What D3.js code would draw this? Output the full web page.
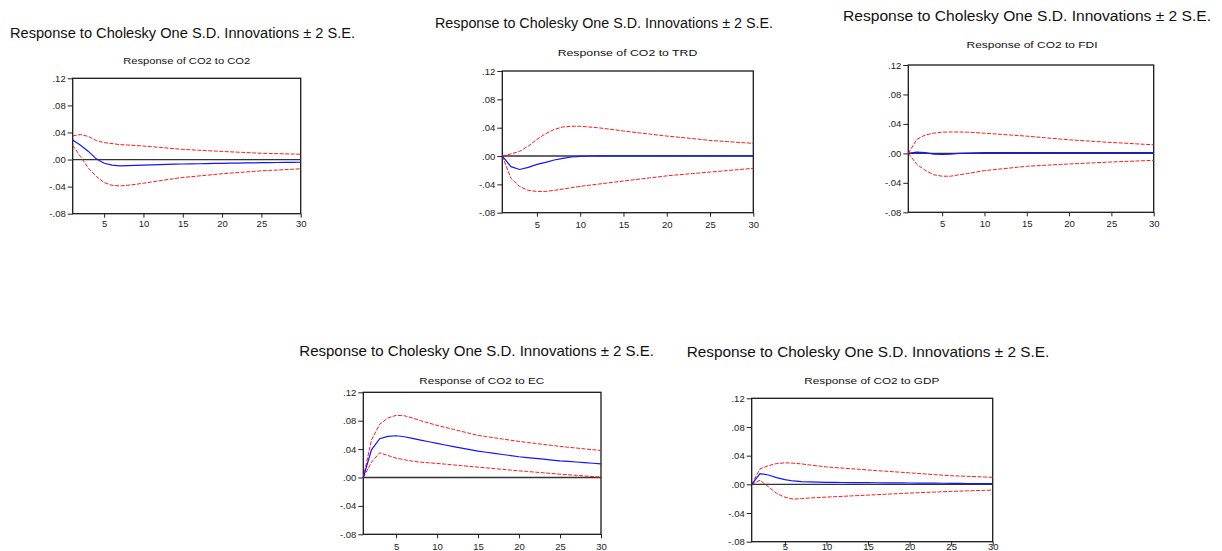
<!DOCTYPE html>
<html>
<head>
<meta charset="utf-8">
<script src="https://cdnjs.cloudflare.com/ajax/libs/d3/7.8.5/d3.min.js"></script>
<style>
  html, body { margin: 0; padding: 0; background: #ffffff; }
  svg { display: block; font-family: "Liberation Sans", Arial, sans-serif; }
</style>
</head>
<body>
<svg id="chart" width="1222" height="551"></svg>
<script>
// ---------------- DATA ----------------
const periods = d3.range(1, 31);
const superTitle = "Response to Cholesky One S.D. Innovations \u00b1 2 S.E.";
const panelTitles = ["Response of CO2 to CO2", "Response of CO2 to TRD", "Response of CO2 to FDI",
                     "Response of CO2 to EC", "Response of CO2 to GDP"];
const yTickValues = [0.12, 0.08, 0.04, 0.00, -0.04, -0.08];
const yTickLabels = [".12", ".08", ".04", ".00", "-.04", "-.08"];
const xTickValues = [5, 10, 15, 20, 25, 30];
const xTickLabels = ["5", "10", "15", "20", "25", "30"];

const co2_co2_resp  = [0.029,0.021,0.012,0.001,-0.0055,-0.0083,-0.0093,-0.009,-0.0086,-0.0082,-0.0079,-0.0076,-0.0072,-0.0069,-0.0066,-0.0064,-0.0062,-0.0060,-0.0058,-0.0056,-0.0054,-0.0052,-0.0050,-0.0048,-0.0046,-0.0045,-0.0044,-0.0042,-0.0041,-0.0040];
const co2_co2_upper = [0.035,0.037,0.034,0.028,0.025,0.0236,0.022,0.0215,0.0207,0.020,0.019,0.018,0.017,0.016,0.015,0.0144,0.0138,0.0132,0.0126,0.012,0.0114,0.0109,0.0104,0.0098,0.0093,0.009,0.0087,0.0084,0.0081,0.0078];
const co2_co2_lower = [0.021,0.0044,-0.0128,-0.025,-0.034,-0.038,-0.039,-0.038,-0.0366,-0.035,-0.0332,-0.0314,-0.0297,-0.028,-0.0265,-0.0254,-0.0243,-0.0232,-0.0221,-0.021,-0.0201,-0.0192,-0.0184,-0.0175,-0.0167,-0.0161,-0.0155,-0.0149,-0.0143,-0.0137];

const co2_trd_resp  = [0,-0.015,-0.019,-0.016,-0.0118,-0.009,-0.0056,-0.0033,-0.0014,-0.0005,0,0.0002,0.0002,0.0002,0.0002,0.0002,0.0002,0.0002,0.0002,0.0002,0.0002,0.0002,0.0002,0.0002,0.0002,0.0002,0.0002,0.0002,0.0002,0.0002];
const co2_trd_upper = [0,0.003,0.0066,0.014,0.0235,0.0315,0.0376,0.041,0.042,0.042,0.041,0.040,0.0385,0.037,0.0353,0.0338,0.0324,0.031,0.0296,0.0282,0.027,0.0258,0.0246,0.0233,0.022,0.0212,0.0203,0.0195,0.0187,0.0179];
const co2_trd_lower = [0,-0.0315,-0.043,-0.0485,-0.050,-0.050,-0.0485,-0.0466,-0.0447,-0.0428,-0.0413,-0.0398,-0.0383,-0.0368,-0.0353,-0.0338,-0.0324,-0.0309,-0.0295,-0.028,-0.0269,-0.0258,-0.0248,-0.0237,-0.0226,-0.0216,-0.0205,-0.0195,-0.0184,-0.0174];

const co2_fdi_resp  = [0,0.0018,0.0009,-0.0009,-0.0013,-0.0009,0,0.0004,0.0007,0.0009,0.0009,0.0009,0.0009,0.0009,0.0009,0.0009,0.0009,0.0009,0.0009,0.0009,0.0009,0.0009,0.0009,0.0009,0.0009,0.001,0.001,0.001,0.001,0.001];
const co2_fdi_upper = [0,0.019,0.025,0.0274,0.0288,0.029,0.029,0.0288,0.0282,0.0274,0.0266,0.0258,0.025,0.0242,0.0234,0.0224,0.0214,0.0204,0.0194,0.0184,0.0177,0.017,0.0162,0.0155,0.0148,0.0142,0.0136,0.0129,0.0123,0.0117];
const co2_fdi_lower = [0,-0.0148,-0.023,-0.029,-0.031,-0.031,-0.029,-0.0274,-0.0254,-0.0234,-0.0222,-0.021,-0.0199,-0.0187,-0.0175,-0.0169,-0.0163,-0.0156,-0.015,-0.0144,-0.0139,-0.0133,-0.0128,-0.0122,-0.0117,-0.0112,-0.0108,-0.0103,-0.0099,-0.0094];

const co2_ec_resp  = [0,0.039,0.0546,0.058,0.0588,0.0574,0.055,0.0527,0.0503,0.048,0.0458,0.0436,0.0414,0.0393,0.0372,0.0356,0.034,0.0324,0.0308,0.0292,0.0281,0.0269,0.0258,0.0246,0.0235,0.0227,0.0218,0.021,0.0201,0.0193];
const co2_ec_upper = [0,0.053,0.075,0.0838,0.0875,0.087,0.0838,0.080,0.0767,0.0734,0.0706,0.0678,0.0649,0.0621,0.0593,0.0576,0.0559,0.0542,0.0525,0.0508,0.0494,0.048,0.0466,0.0452,0.0438,0.0426,0.0415,0.0403,0.0392,0.038];
const co2_ec_lower = [0,0.0216,0.0348,0.031,0.0273,0.025,0.023,0.0216,0.0207,0.0198,0.0188,0.0177,0.0167,0.0156,0.0146,0.0136,0.0125,0.0115,0.0104,0.0094,0.0085,0.0075,0.0066,0.0056,0.0047,0.0039,0.003,0.0022,0.0013,0.0005];

const co2_gdp_resp  = [0,0.015,0.013,0.0094,0.0066,0.0047,0.0037,0.0033,0.003,0.0028,0.0027,0.0026,0.0025,0.0024,0.0023,0.0022,0.0021,0.0021,0.002,0.0019,0.0018,0.0017,0.0016,0.0015,0.0014,0.0013,0.0012,0.0011,0.001,0.0009];
const co2_gdp_upper = [0,0.0215,0.026,0.029,0.030,0.0295,0.0285,0.027,0.0257,0.0243,0.0234,0.0226,0.0217,0.0209,0.02,0.0192,0.0184,0.0176,0.0168,0.016,0.0152,0.0144,0.0136,0.0128,0.012,0.0116,0.0111,0.0107,0.0102,0.0098];
const co2_gdp_lower = [0,0.0056,-0.0033,-0.0126,-0.018,-0.0206,-0.020,-0.019,-0.0184,-0.0178,-0.0172,-0.0167,-0.0161,-0.0156,-0.015,-0.0144,-0.0139,-0.0133,-0.0128,-0.0122,-0.0117,-0.0112,-0.0108,-0.0103,-0.0098,-0.0094,-0.0091,-0.0087,-0.0084,-0.008];

const seriesSets = [
  [co2_co2_resp, co2_co2_upper, co2_co2_lower],
  [co2_trd_resp, co2_trd_upper, co2_trd_lower],
  [co2_fdi_resp, co2_fdi_upper, co2_fdi_lower],
  [co2_ec_resp,  co2_ec_upper,  co2_ec_lower],
  [co2_gdp_resp, co2_gdp_upper, co2_gdp_lower]
];

// ---------------- LAYOUT ----------------
const layouts = [
  {L:72.7,  R:300.7,  T:78.3,  B:213.7, sx1:10,    sx2:355,    sb:37.5,  sfs:14,   tc:186.7, tw:127,   tb:64,    xb:227.3},
  {L:502.3, R:753.3,  T:71,    B:212.7, sx1:435,   sx2:773,    sb:28.3,  sfs:14,   tc:627.5, tw:139.7, tb:56,    xb:228.3},
  {L:908.3, R:1153.7, T:65,    B:212.3, sx1:843,   sx2:1211,   sb:20.7,  sfs:14,   tc:1032,  tw:131,   tb:47.7,  xb:226.7},
  {L:363.3, R:601,    T:392.3, B:534.3, sx1:299.3, sx2:654,    sb:355.7, sfs:14.5, tc:481.7, tw:124.7, tb:383.5, xb:549.6},
  {L:751.7, R:992.7,  T:398.3, B:541.7, sx1:686.7, sx2:1049.3, sb:356.5, sfs:14.5, tc:871.8, tw:135,   tb:384,   xb:549.8}
];

const svg = d3.select("#chart");

layouts.forEach((lay, i) => {
  const [resp, upper, lower] = seriesSets[i];
  const g = svg.append("g");
  const x = d3.scaleLinear().domain([1, 30]).range([lay.L, lay.R]);
  const y = d3.scaleLinear().domain([-0.08, 0.12]).range([lay.B, lay.T]);

  // super title
  g.append("text")
    .attr("x", lay.sx1).attr("y", lay.sb)
    .attr("font-size", lay.sfs).attr("fill", "#111")
    .attr("textLength", lay.sx2 - lay.sx1).attr("lengthAdjust", "spacingAndGlyphs")
    .text(superTitle);

  // panel title
  g.append("text")
    .attr("x", lay.tc - lay.tw / 2).attr("y", lay.tb)
    .attr("font-size", 9.5).attr("fill", "#111")
    .attr("textLength", lay.tw).attr("lengthAdjust", "spacingAndGlyphs")
    .text(panelTitles[i]);

  // y axis
  const yAxis = d3.axisLeft(y).tickValues(yTickValues)
    .tickFormat((d, k) => yTickLabels[k]).tickSize(5).tickSizeOuter(0).tickPadding(2);
  const ya = g.append("g").attr("transform", `translate(${lay.L},0)`).call(yAxis);
  ya.select(".domain").remove();
  ya.selectAll(".tick line").attr("stroke", "#222").attr("stroke-width", 1);
  ya.selectAll(".tick text").attr("font-size", 9.5).attr("fill", "#222")
    .attr("font-family", "Liberation Sans, Arial, sans-serif");

  // x axis
  const xAxis = d3.axisBottom(x).tickValues(xTickValues)
    .tickFormat((d, k) => xTickLabels[k]).tickSize(4).tickSizeOuter(0).tickPadding(3);
  const xa = g.append("g").attr("transform", `translate(0,${lay.B})`).call(xAxis);
  xa.select(".domain").remove();
  xa.selectAll(".tick line").attr("stroke", "#222").attr("stroke-width", 1);
  xa.selectAll(".tick text").attr("font-size", 9.5).attr("fill", "#222")
    .attr("font-family", "Liberation Sans, Arial, sans-serif")
    .attr("dy", null).attr("y", lay.xb - lay.B);

  // frame
  g.append("rect")
    .attr("x", x(1)).attr("y", y(0.12))
    .attr("width", x(30) - x(1)).attr("height", y(-0.08) - y(0.12))
    .attr("fill", "none").attr("stroke", "#1a1a1a").attr("stroke-width", 1.3);

  // zero line
  g.append("line")
    .attr("x1", x(1)).attr("x2", x(30)).attr("y1", y(0)).attr("y2", y(0))
    .attr("stroke", "#333").attr("stroke-width", 1.3);

  const line = d3.line().x((d, k) => x(periods[k])).y(d => y(d));

  [upper, lower].forEach(s => {
    g.append("path").datum(s).attr("d", line)
      .attr("fill", "none").attr("stroke", "#ff1a1a").attr("stroke-width", 1)
      .attr("stroke-dasharray", "4,1.5");
  });
  g.append("path").datum(resp).attr("d", line)
    .attr("fill", "none").attr("stroke", "#1414ff").attr("stroke-width", 1.2);
});
</script>
</body>
</html>
